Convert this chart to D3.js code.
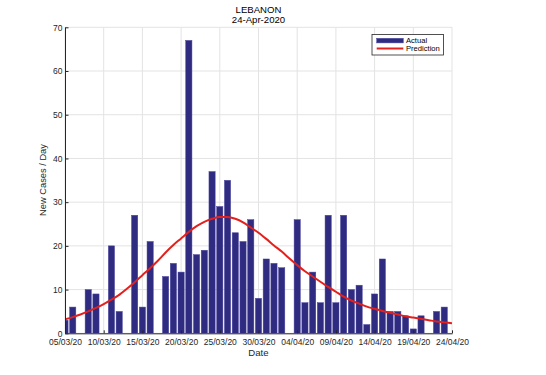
<!DOCTYPE html>
<html>
<head>
<meta charset="utf-8">
<script src="https://cdn.jsdelivr.net/npm/d3@7"></script>
<style>
  html, body { margin: 0; padding: 0; background: #fff; }
  svg { display: block; font-family: "Liberation Sans", Arial, Helvetica, sans-serif; }
</style>
</head>
<body>
<svg id="chart" width="546" height="375"></svg>
<script>
// ---- data ----
const dates = [
  "05/03/20","06/03/20","07/03/20","08/03/20","09/03/20","10/03/20","11/03/20","12/03/20","13/03/20","14/03/20",
  "15/03/20","16/03/20","17/03/20","18/03/20","19/03/20","20/03/20","21/03/20","22/03/20","23/03/20","24/03/20",
  "25/03/20","26/03/20","27/03/20","28/03/20","29/03/20","30/03/20","31/03/20","01/04/20","02/04/20","03/04/20",
  "04/04/20","05/04/20","06/04/20","07/04/20","08/04/20","09/04/20","10/04/20","11/04/20","12/04/20","13/04/20",
  "14/04/20","15/04/20","16/04/20","17/04/20","18/04/20","19/04/20","20/04/20","21/04/20","22/04/20","23/04/20",
  "24/04/20"
];
const actual = [
  3, 6, 0, 10, 9, 0, 20, 5, 0, 27,
  6, 21, 0, 13, 16, 14, 67, 18, 19, 37,
  29, 35, 23, 21, 26, 8, 17, 16, 15, 0,
  26, 7, 14, 7, 27, 7, 27, 10, 11, 2,
  9, 17, 5, 5, 4, 1, 4, 0, 5, 6,
  0
];
const prediction = [
  3.2, 3.7, 4.3, 5.0, 5.8, 6.7, 7.7, 8.8, 10.2, 11.7,
  13.3, 14.9, 16.6, 18.5, 20.2, 21.7, 23.2, 24.5, 25.5, 26.2,
  26.6, 26.6, 26.2, 25.4, 24.2, 23.0, 21.6, 20.1, 18.7, 17.1,
  15.6, 14.2, 13.0, 11.8, 10.6, 9.5, 8.4, 7.5, 6.8, 6.1,
  5.6, 5.1, 4.7, 4.3, 3.9, 3.6, 3.3, 3.0, 2.7, 2.5,
  2.3
];
const xTickLabels = ["05/03/20","10/03/20","15/03/20","20/03/20","25/03/20","30/03/20","04/04/20","09/04/20","14/04/20","19/04/20","24/04/20"];
const yTicks = [0, 10, 20, 30, 40, 50, 60, 70];
const titleLines = ["LEBANON", "24-Apr-2020"];
const seriesNames = ["Actual", "Prediction"];

// ---- layout ----
const parse = d3.timeParse("%d/%m/%y");
const fmt = d3.timeFormat("%d/%m/%y");
const pLeft = 65, pRight = 452, pTop = 27.3, pBottom = 333.3;
const barColor = "#2f2b80";
const lineColor = "#e3201c";
const axisColor = "#262626";
const gridColor = "#e3e3e3";

const svg = d3.select("#chart");
const dateObjs = dates.map(parse);

const x = d3.scaleTime()
  .domain([dateObjs[0], dateObjs[dateObjs.length - 1]])
  .range([pLeft, pRight]);
const y = d3.scaleLinear().domain([0, 70]).range([pBottom, pTop]);
const dayW = x(dateObjs[1]) - x(dateObjs[0]);
const barW = dayW * 0.8;

svg.append("defs").append("clipPath").attr("id", "plotclip")
  .append("rect").attr("x", pLeft).attr("y", pTop).attr("width", pRight - pLeft).attr("height", pBottom - pTop);

// grid
const xTickDates = xTickLabels.map(parse);
const grid = svg.append("g");
grid.selectAll("line.vx").data(xTickDates).join("line")
  .attr("x1", d => x(d)).attr("x2", d => x(d))
  .attr("y1", pTop).attr("y2", pBottom)
  .attr("stroke", gridColor).attr("stroke-width", 1);
grid.selectAll("line.hy").data(yTicks).join("line")
  .attr("x1", pLeft).attr("x2", pRight)
  .attr("y1", d => y(d)).attr("y2", d => y(d))
  .attr("stroke", gridColor).attr("stroke-width", 1);

// bars
const plot = svg.append("g").attr("clip-path", "url(#plotclip)");
plot.selectAll("rect.bar").data(actual.map((v, i) => ({v, d: dateObjs[i]})).filter(o => o.v > 0))
  .join("rect")
  .attr("class", "bar")
  .attr("x", o => x(o.d) - barW / 2)
  .attr("width", barW)
  .attr("y", o => y(o.v))
  .attr("height", o => y(0) - y(o.v))
  .attr("fill", barColor)
  .attr("stroke", "#4a46a0")
  .attr("stroke-width", 0.5);

// prediction line
const line = d3.line()
  .x((v, i) => x(dateObjs[i]))
  .y(v => y(v))
  .curve(d3.curveMonotoneX);
plot.append("path")
  .attr("d", line(prediction))
  .attr("fill", "none")
  .attr("stroke", lineColor)
  .attr("stroke-width", 2);

// axes
const xAxis = d3.axisBottom(x).tickValues(xTickDates).tickFormat(fmt).tickSizeInner(-3).tickSizeOuter(0).tickPadding(6);
const gx = svg.append("g").attr("transform", `translate(0,${pBottom})`).call(xAxis);
gx.select(".domain").attr("stroke", axisColor);
gx.selectAll(".tick line").attr("stroke", axisColor);
gx.selectAll("text").attr("fill", axisColor).attr("font-size", "8.5px").attr("font-family", "Liberation Sans, Arial, sans-serif");

const yAxis = d3.axisLeft(y).tickValues(yTicks).tickSizeInner(-3.5).tickSizeOuter(0).tickPadding(2.5);
const gy = svg.append("g").attr("transform", `translate(${pLeft},0)`).call(yAxis);
gy.select(".domain").attr("stroke", axisColor);
gy.selectAll(".tick line").attr("stroke", axisColor);
gy.selectAll("text").attr("fill", axisColor).attr("font-size", "8.5px").attr("font-family", "Liberation Sans, Arial, sans-serif");

// titles
const cx = (pLeft + pRight) / 2;
svg.append("text").attr("x", cx).attr("y", 12.5).attr("text-anchor", "middle")
  .attr("font-size", "9.6px").attr("fill", "#000").text(titleLines[0]);
svg.append("text").attr("x", cx).attr("y", 22.8).attr("text-anchor", "middle")
  .attr("font-size", "9.6px").attr("fill", "#000").text(titleLines[1]);

svg.append("text").attr("x", cx).attr("y", 355.5).attr("text-anchor", "middle")
  .attr("font-size", "9.6px").attr("fill", axisColor).text("Date");

svg.append("text").attr("transform", `translate(46,180) rotate(-90)`).attr("text-anchor", "middle")
  .attr("font-size", "9.3px").attr("fill", axisColor).text("New Cases / Day");

// legend
const lg = svg.append("g");
lg.append("rect").attr("x", 372).attr("y", 34.5).attr("width", 71.5).attr("height", 20.5)
  .attr("fill", "#fff").attr("stroke", axisColor).attr("stroke-width", 0.8);
lg.append("rect").attr("x", 376.7).attr("y", 38.3).attr("width", 26.6).attr("height", 4.6)
  .attr("fill", barColor).attr("stroke", "#4a46a0").attr("stroke-width", 0.5);
lg.append("line").attr("x1", 376.7).attr("x2", 403.3).attr("y1", 48.5).attr("y2", 48.5)
  .attr("stroke", lineColor).attr("stroke-width", 2);
lg.append("text").attr("x", 406).attr("y", 43.2).attr("font-size", "7.6px").attr("fill", "#000").text(seriesNames[0]);
lg.append("text").attr("x", 406).attr("y", 51.3).attr("font-size", "7.6px").attr("fill", "#000").text(seriesNames[1]);
</script>
</body>
</html>
